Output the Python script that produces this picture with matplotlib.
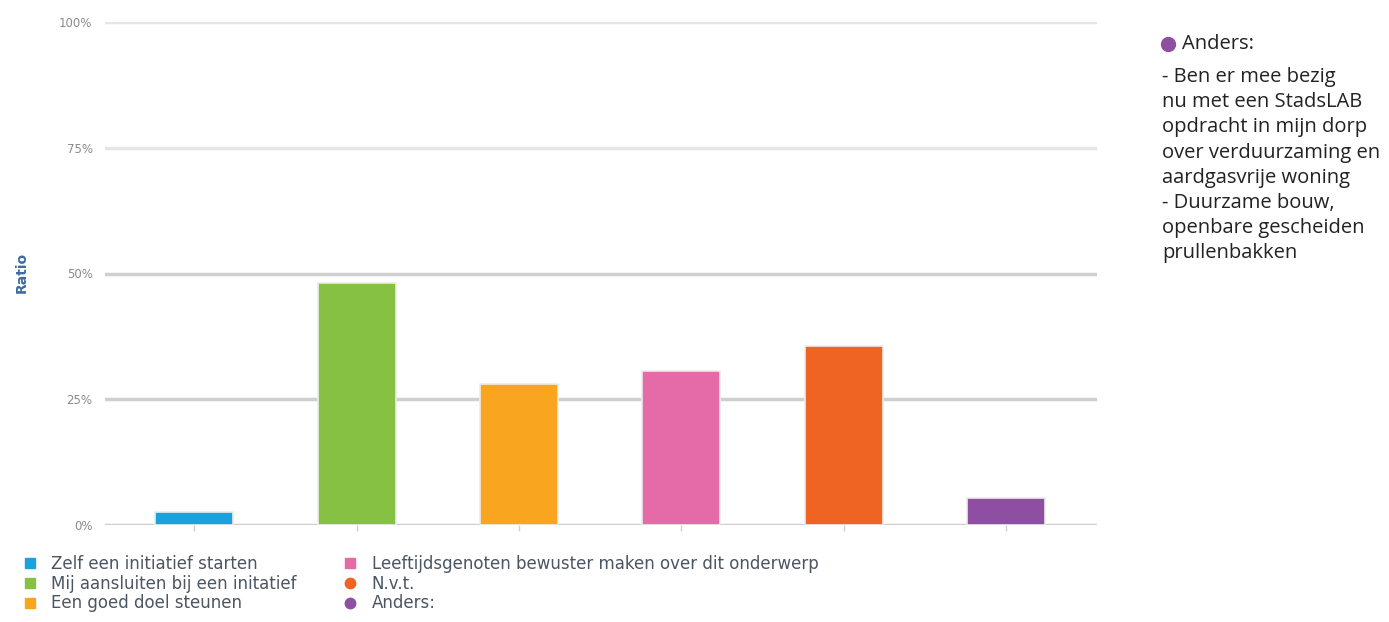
import matplotlib.pyplot as plt
from matplotlib.lines import Line2D

# Data
categories = ["Zelf een initiatief starten",
              "Mij aansluiten bij een initatief",
              "Een goed doel steunen",
              "Leeftijdsgenoten bewuster maken over dit onderwerp",
              "N.v.t.",
              "Anders:"]
ratios = [2.5, 48.2, 28.0, 30.6, 35.6, 5.3]
colors = ["#1ba1dc", "#86c144", "#f9a51f", "#e46aa8", "#ef6423", "#8e4fa3"]
markers = ["s", "s", "s", "s", "o", "o"]
yticks = [0, 25, 50, 75, 100]
ytick_labels = ["0%", "25%", "50%", "75%", "100%"]
anders_lines = ["- Ben er mee bezig",
                "nu met een StadsLAB",
                "opdracht in mijn dorp",
                "over verduurzaming en",
                "aardgasvrije woning",
                "- Duurzame bouw,",
                "openbare gescheiden",
                "prullenbakken"]

W, H = 1389, 622
fig = plt.figure(figsize=(W / 100, H / 100), dpi=100)
# axes in pixel coords: left 105, right 1097, y0 at 525, y100 at 22
ax = fig.add_axes([105 / W, (H - 525) / H, (1097 - 105) / W, (525 - 22) / H])

x = list(range(len(categories)))
ax.bar(x, ratios, width=0.48, color=colors, edgecolor="#ececec", linewidth=1.2, zorder=3)

ax.set_xlim(-0.55, 5.56)
ax.set_ylim(0, 100)
ax.set_yticks(yticks)
ax.set_yticklabels(ytick_labels, color="#8a8a8a", fontsize=8.5)
ax.set_xticks(x)
ax.set_xticklabels([])
ax.tick_params(axis="x", length=4, color="#d0d0d0", width=1)
ax.tick_params(axis="y", length=0, pad=9)

for v in yticks:
    c = "#e6e6e6" if v >= 75 else "#cfcfcf"
    ax.axhline(v, color=c, linewidth=2.5, zorder=1)

for s in ax.spines.values():
    s.set_visible(False)

fig.text(22 / W, 1 - 272 / H, "Ratio", rotation=90, color="#3d6b9e",
         fontsize=10, fontweight="bold", ha="center", va="center")

# bottom legend
handles = [Line2D([], [], linestyle="none", marker=m, markersize=7.5,
                  markerfacecolor=c, markeredgecolor=c)
           for c, m in zip(colors, markers)]
leg = fig.legend(handles, categories, ncol=2, loc="upper left",
                 bbox_to_anchor=(23 / W, 1 - 555 / H), frameon=False,
                 fontsize=12, handlelength=0.8, handletextpad=0.9,
                 labelspacing=0.1, columnspacing=2.8, borderaxespad=0,
                 borderpad=0)
for t in leg.get_texts():
    t.set_color("#4b5563")

# side note
fig.add_artist(Line2D([1168 / W], [1 - 44 / H], marker="o", markersize=10,
                      color="#8e4fa3", transform=fig.transFigure))
fig.text(1182 / W, 1 - 44 / H, "Anders:", fontsize=14.5, family="Open Sans",
         color="#222222", va="center")
for i, line in enumerate(anders_lines):
    fig.text(1162 / W, 1 - (77 + i * 25.2) / H, line, fontsize=14.5,
             family="Open Sans", color="#222222", va="center")

plt.savefig("out.png", dpi=100)
